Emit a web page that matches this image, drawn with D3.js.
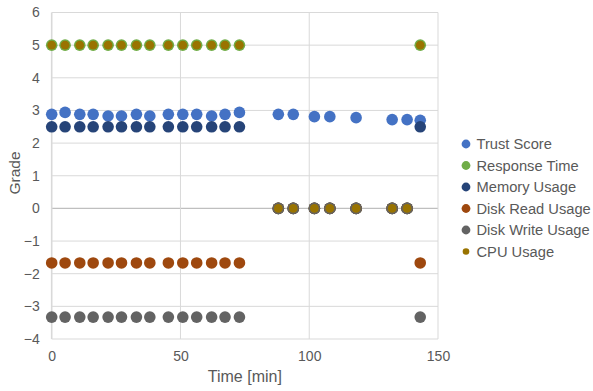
<!DOCTYPE html>
<html>
<head>
<meta charset="utf-8">
<script src="https://cdn.jsdelivr.net/npm/d3@7"></script>
<style>
  html, body { margin: 0; padding: 0; background: #fff; }
  svg { display: block; font-family: "Liberation Sans", Arial, sans-serif; }
</style>
</head>
<body>
<svg id="chart" width="593" height="391"></svg>
<script>
// Sample times (minutes)
const times = [0, 5.2, 10.9, 16.1, 21.9, 27.1, 32.9, 38.1, 45.3, 50.9, 56.3, 62.1, 67.3, 72.9,
               88.0, 93.8, 102.0, 108.0, 118.2, 132.2, 138.0, 143.1];

// Grades per series
const trustScore   = [2.88, 2.94, 2.88, 2.88, 2.83, 2.83, 2.88, 2.83, 2.88, 2.88, 2.88, 2.83, 2.88, 2.94,
                      2.88, 2.88, 2.81, 2.81, 2.78, 2.72, 2.72, 2.70];
const responseTime = [5, 5, 5, 5, 5, 5, 5, 5, 5, 5, 5, 5, 5, 5, 0, 0, 0, 0, 0, 0, 0, 5];
const memoryUsage  = [2.5, 2.5, 2.5, 2.5, 2.5, 2.5, 2.5, 2.5, 2.5, 2.5, 2.5, 2.5, 2.5, 2.5, 0, 0, 0, 0, 0, 0, 0, 2.5];
const diskRead     = [-1.67, -1.67, -1.67, -1.67, -1.67, -1.67, -1.67, -1.67, -1.67, -1.67, -1.67, -1.67, -1.67, -1.67,
                      0, 0, 0, 0, 0, 0, 0, -1.67];
const diskWrite    = [-3.33, -3.33, -3.33, -3.33, -3.33, -3.33, -3.33, -3.33, -3.33, -3.33, -3.33, -3.33, -3.33, -3.33,
                      0, 0, 0, 0, 0, 0, 0, -3.33];
const cpuUsage     = [5, 5, 5, 5, 5, 5, 5, 5, 5, 5, 5, 5, 5, 5, 0, 0, 0, 0, 0, 0, 0, 5];

const seriesNames  = ["Trust Score", "Response Time", "Memory Usage", "Disk Read Usage", "Disk Write Usage", "CPU Usage"];
const seriesValues = [trustScore, responseTime, memoryUsage, diskRead, diskWrite, cpuUsage];
const seriesColors = ["#4472C4", "#70AD47", "#264478", "#9E480E", "#636363", "#997300"];
const seriesRadius = [5.8, 5.8, 5.8, 5.8, 5.8, 4.4];
const legendRadius = [4.4, 4.4, 4.4, 4.4, 4.4, 3.3];

const xTicks = [0, 50, 100, 150];
const yTicks = [-4, -3, -2, -1, 0, 1, 2, 3, 4, 5, 6];

const svg = d3.select("#chart");
const plot = { left: 51.7, right: 438, top: 12.5, bottom: 339 };

const x = d3.scaleLinear().domain([0, 150]).range([plot.left, plot.right]);
const y = d3.scaleLinear().domain([-4, 6]).range([plot.bottom, plot.top]);

const textColor = "#595959";

// Gridlines
const grid = svg.append("g");
grid.selectAll("line.h").data(yTicks).join("line")
  .attr("x1", plot.left).attr("x2", plot.right)
  .attr("y1", d => y(d)).attr("y2", d => y(d))
  .attr("stroke", d => d === 0 ? "#bfbfbf" : "#d9d9d9")
  .attr("stroke-width", d => d === 0 ? 1.3 : 1);
grid.selectAll("line.v").data(xTicks).join("line")
  .attr("y1", plot.top).attr("y2", plot.bottom)
  .attr("x1", d => x(d)).attr("x2", d => x(d))
  .attr("stroke", "#d9d9d9")
  .attr("stroke-width", d => d === 0 ? 1.6 : 1);

// Axes (labels only; lines come from the grid)
const yAxis = d3.axisLeft(y).tickValues(yTicks).tickSize(0).tickPadding(12);
const gy = svg.append("g").attr("transform", `translate(${plot.left},0)`).call(yAxis);
const xAxis = d3.axisBottom(x).tickValues(xTicks).tickSize(0).tickPadding(12);
const gx = svg.append("g").attr("transform", `translate(0,${plot.bottom})`).call(xAxis);
[gx, gy].forEach(g => {
  g.select(".domain").remove();
  g.selectAll("text").attr("fill", textColor).attr("font-size", 14)
    .attr("font-family", "'Liberation Sans', Arial, sans-serif");
});

// Axis titles
svg.append("text")
  .attr("x", x(75)).attr("y", 382)
  .attr("text-anchor", "middle")
  .attr("fill", textColor).attr("font-size", 16)
  .text("Time [min]");
svg.append("text")
  .attr("transform", "translate(20,173) rotate(-90)")
  .attr("text-anchor", "middle")
  .attr("fill", textColor).attr("font-size", 15.5)
  .text("Grade");

// Markers, drawn series by series so later series sit on top
seriesValues.forEach((vals, si) => {
  svg.append("g").selectAll("circle")
    .data(vals.map((v, i) => ({ t: times[i], v })))
    .join("circle")
    .attr("cx", d => x(d.t))
    .attr("cy", d => y(d.v))
    .attr("r", seriesRadius[si])
    .attr("fill", seriesColors[si]);
});

// Legend
const legend = svg.append("g");
seriesNames.forEach((name, i) => {
  const ly = 144 + i * 21.5;
  legend.append("circle")
    .attr("cx", 466).attr("cy", ly).attr("r", legendRadius[i])
    .attr("fill", seriesColors[i]);
  legend.append("text")
    .attr("x", 476.5).attr("y", ly).attr("dy", "0.35em")
    .attr("fill", textColor).attr("font-size", 14.7)
    .text(name);
});
</script>
</body>
</html>
